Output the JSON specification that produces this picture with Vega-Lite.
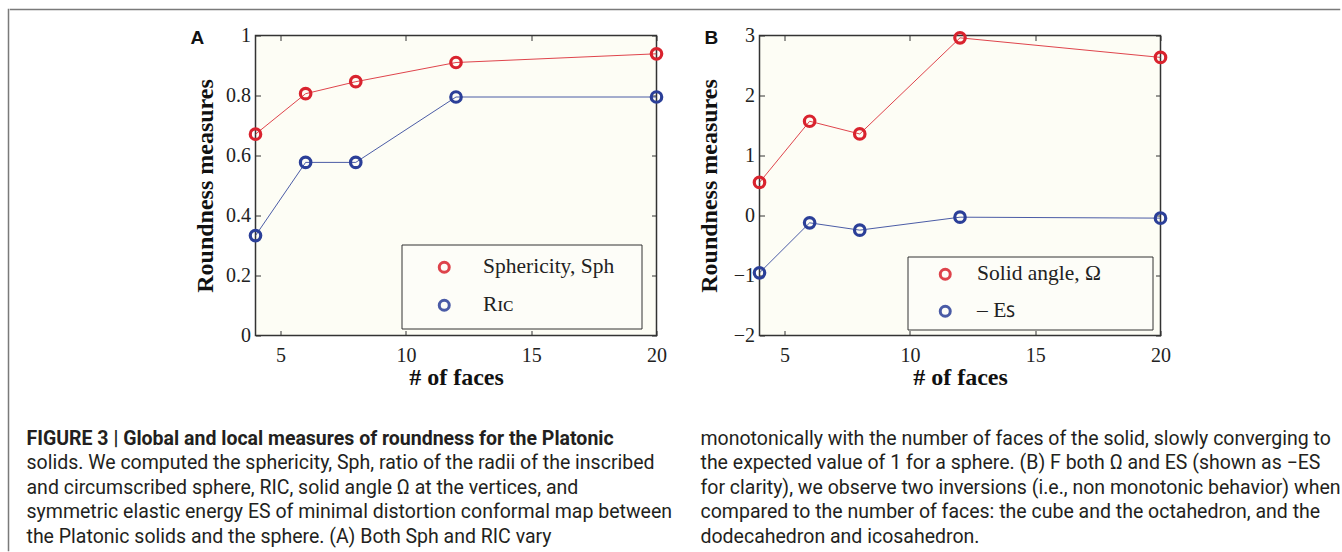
{
  "$schema": "https://vega.github.io/schema/vega-lite/v6.json",
  "background": "white",
  "padding": {"left": 7.5, "top": 8.5, "right": 0, "bottom": 0},
  "datasets": {
    "A": [
      {"series": "Sphericity, Sph", "faces": 4, "value": 0.671},
      {"series": "Sphericity, Sph", "faces": 6, "value": 0.806},
      {"series": "Sphericity, Sph", "faces": 8, "value": 0.846},
      {"series": "Sphericity, Sph", "faces": 12, "value": 0.910},
      {"series": "Sphericity, Sph", "faces": 20, "value": 0.939},
      {"series": "Rɪᴄ", "faces": 4, "value": 0.333},
      {"series": "Rɪᴄ", "faces": 6, "value": 0.577},
      {"series": "Rɪᴄ", "faces": 8, "value": 0.577},
      {"series": "Rɪᴄ", "faces": 12, "value": 0.795},
      {"series": "Rɪᴄ", "faces": 20, "value": 0.795}
    ],
    "B": [
      {"series": "Solid angle, Ω", "faces": 4, "value": 0.551},
      {"series": "Solid angle, Ω", "faces": 6, "value": 1.571},
      {"series": "Solid angle, Ω", "faces": 8, "value": 1.359},
      {"series": "Solid angle, Ω", "faces": 12, "value": 2.961},
      {"series": "Solid angle, Ω", "faces": 20, "value": 2.635},
      {"series": "–  Eꜱ", "faces": 4, "value": -0.955},
      {"series": "–  Eꜱ", "faces": 6, "value": -0.122},
      {"series": "–  Eꜱ", "faces": 8, "value": -0.244},
      {"series": "–  Eꜱ", "faces": 12, "value": -0.028},
      {"series": "–  Eꜱ", "faces": 20, "value": -0.044}
    ],
    "caption": [
      {"col": "L", "line": 1, "text": "FIGURE 3 | Global and local measures of roundness for the Platonic"},
      {"col": "L", "line": 2, "text": "solids. We computed the sphericity, Sph, ratio of the radii of the inscribed"},
      {"col": "L", "line": 3, "text": "and circumscribed sphere, RIC, solid angle Ω at the vertices, and"},
      {"col": "L", "line": 4, "text": "symmetric elastic energy ES of minimal distortion conformal map between"},
      {"col": "L", "line": 5, "text": "the Platonic solids and the sphere. (A) Both Sph and RIC vary"},
      {"col": "R", "line": 1, "text": "monotonically with the number of faces of the solid, slowly converging to"},
      {"col": "R", "line": 2, "text": "the expected value of 1 for a sphere. (B) F both Ω and ES (shown as −ES"},
      {"col": "R", "line": 3, "text": "for clarity), we observe two inversions (i.e., non monotonic behavior) when"},
      {"col": "R", "line": 4, "text": "compared to the number of faces: the cube and the octahedron, and the"},
      {"col": "R", "line": 5, "text": "dodecahedron and icosahedron."}
    ]
  },
  "config": {
    "view": {"stroke": null},
    "axis": {
      "grid": false,
      "domain": false,
      "tickColor": "#333333",
      "tickSize": -5,
      "tickWidth": 1,
      "labelFont": "Liberation Serif",
      "labelFontSize": 20,
      "labelColor": "#222222",
      "labelFlush": false,
      "labelOverlap": false,
      "titleFont": "Liberation Serif",
      "titleFontSize": 24,
      "titleFontWeight": "bold",
      "titleColor": "#111111"
    }
  },
  "hconcat": [
    {
      "width": 0.01,
      "height": 541,
      "view": {"stroke": "#7a7a7a", "strokeWidth": 1.5},
      "data": {"values": []},
      "mark": {"type": "point", "opacity": 0},
      "encoding": {}
    },
    {
      "vconcat": [
        {
          "width": 1329,
          "height": 0.01,
          "view": {"stroke": "#7a7a7a", "strokeWidth": 1.5},
          "data": {"values": []},
          "mark": {"type": "point", "opacity": 0},
          "encoding": {}
        },
        {
          "vconcat": [
            {
              "hconcat": [
                {
                  "width": 153,
                  "height": 300,
                  "data": {"values": []},
                  "mark": {"type": "point", "opacity": 0},
                  "encoding": {}
                },
                {
                  "width": 401,
                  "height": 300,
                  "view": {"stroke": "#333333", "strokeWidth": 1.5, "fill": "#fdfdf5"},
                  "data": {"name": "A"},
                  "layer": [
                    {
                      "mark": {"type": "line", "strokeWidth": 1, "opacity": 0.85},
                      "encoding": {
                        "x": {"field": "faces", "type": "quantitative", "scale": {"domain": [4, 20], "nice": false, "zero": false},
                              "axis": {"orient": "bottom", "values": [5, 10, 15, 20], "labelPadding": 15, "title": "# of faces", "titlePadding": 0}},
                        "y": {"field": "value", "type": "quantitative", "scale": {"domain": [0, 1], "nice": false},
                              "axis": {"orient": "left", "values": [0, 0.2, 0.4, 0.6, 0.8, 1], "format": "~g", "labelPadding": 10, "title": "Roundness measures", "titlePadding": 8}},
                        "color": {"field": "series", "type": "nominal", "scale": {"domain": ["Sphericity, Sph", "Rɪᴄ"], "range": ["#d9232e", "#2b3f98"]},
                          "legend": {"orient": "none", "legendX": 146, "legendY": 209, "direction": "vertical", "title": ".", "titleOrient": "right", "titleFontSize": 10, "titleOpacity": 0, "titlePadding": 12,
                            "strokeColor": "#333333", "fillColor": "#fdfdf8", "padding": 12, "rowPadding": 15,
                            "symbolType": "circle", "symbolSize": 100, "symbolStrokeWidth": 3, "symbolFillColor": "transparent", "symbolOffset": 20,
                            "labelOffset": 28, "labelFont": "Liberation Serif", "labelFontSize": 21.5, "labelColor": "#222222", "labelLimit": 400}}
                      }
                    },
                    {
                      "mark": {"type": "point", "shape": "circle", "filled": false, "size": 110, "strokeWidth": 3.2, "opacity": 1},
                      "encoding": {
                        "x": {"field": "faces", "type": "quantitative", "axis": {"orient": "top", "values": [5, 10, 15, 20], "labels": false, "title": null}},
                        "y": {"field": "value", "type": "quantitative", "axis": {"orient": "right", "values": [0, 0.2, 0.4, 0.6, 0.8, 1], "labels": false, "title": null}},
                        "color": {"field": "series", "type": "nominal", "scale": {"domain": ["Sphericity, Sph", "Rɪᴄ"], "range": ["#d9232e", "#2b3f98"]},
                          "legend": {"orient": "none", "legendX": 146, "legendY": 209, "direction": "vertical", "title": ".", "titleOrient": "right", "titleFontSize": 10, "titleOpacity": 0, "titlePadding": 12,
                            "strokeColor": "#333333", "fillColor": "#fdfdf8", "padding": 12, "rowPadding": 15,
                            "symbolType": "circle", "symbolSize": 100, "symbolStrokeWidth": 3, "symbolFillColor": "transparent", "symbolOffset": 20,
                            "labelOffset": 28, "labelFont": "Liberation Serif", "labelFontSize": 21.5, "labelColor": "#222222", "labelLimit": 400}}
                      }
                    },
                    {
                      "data": {"values": [{"panel": "A"}]},
                      "mark": {"type": "text", "font": "Liberation Sans", "fontSize": 19, "fontWeight": "bold", "color": "#111111", "align": "left", "baseline": "alphabetic", "dx": -65, "dy": 8},
                      "encoding": {
                        "text": {"field": "panel", "type": "nominal"},
                        "x": {"datum": 4, "type": "quantitative", "axis": null},
                        "y": {"datum": 1, "type": "quantitative", "axis": null}
                      }
                    }
                  ],
                  "resolve": {"axis": {"x": "independent", "y": "independent"}}
                },
                {
                  "width": 401,
                  "height": 300,
                  "view": {"stroke": "#333333", "strokeWidth": 1.5, "fill": "#fdfdf5"},
                  "data": {"name": "B"},
                  "layer": [
                    {
                      "mark": {"type": "line", "strokeWidth": 1, "opacity": 0.85},
                      "encoding": {
                        "x": {"field": "faces", "type": "quantitative", "scale": {"domain": [4, 20], "nice": false, "zero": false},
                              "axis": {"orient": "bottom", "values": [5, 10, 15, 20], "labelPadding": 15, "title": "# of faces", "titlePadding": 0}},
                        "y": {"field": "value", "type": "quantitative", "scale": {"domain": [-2, 3], "nice": false},
                              "axis": {"orient": "left", "values": [-2, -1, 0, 1, 2, 3], "format": "~g", "labelPadding": 10, "title": "Roundness measures", "titlePadding": 12}},
                        "color": {"field": "series", "type": "nominal", "scale": {"domain": ["Solid angle, Ω", "–  Eꜱ"], "range": ["#d9232e", "#2b3f98"]},
                          "legend": {"orient": "none", "legendX": 148, "legendY": 221, "direction": "vertical", "title": ".", "titleOrient": "right", "titleFontSize": 10, "titleOpacity": 0, "titlePadding": 41,
                            "strokeColor": "#333333", "fillColor": "#fdfdf8", "padding": 7, "rowPadding": 14,
                            "symbolType": "circle", "symbolSize": 100, "symbolStrokeWidth": 3, "symbolFillColor": "transparent", "symbolOffset": 20,
                            "labelOffset": 21, "labelFont": "Liberation Serif", "labelFontSize": 21.5, "labelColor": "#222222", "labelLimit": 400}}
                      }
                    },
                    {
                      "mark": {"type": "point", "shape": "circle", "filled": false, "size": 110, "strokeWidth": 3.2, "opacity": 1},
                      "encoding": {
                        "x": {"field": "faces", "type": "quantitative", "axis": {"orient": "top", "values": [5, 10, 15, 20], "labels": false, "title": null}},
                        "y": {"field": "value", "type": "quantitative", "axis": {"orient": "right", "values": [-2, -1, 0, 1, 2, 3], "labels": false, "title": null}},
                        "color": {"field": "series", "type": "nominal", "scale": {"domain": ["Solid angle, Ω", "–  Eꜱ"], "range": ["#d9232e", "#2b3f98"]},
                          "legend": {"orient": "none", "legendX": 148, "legendY": 221, "direction": "vertical", "title": ".", "titleOrient": "right", "titleFontSize": 10, "titleOpacity": 0, "titlePadding": 41,
                            "strokeColor": "#333333", "fillColor": "#fdfdf8", "padding": 7, "rowPadding": 14,
                            "symbolType": "circle", "symbolSize": 100, "symbolStrokeWidth": 3, "symbolFillColor": "transparent", "symbolOffset": 20,
                            "labelOffset": 21, "labelFont": "Liberation Serif", "labelFontSize": 21.5, "labelColor": "#222222", "labelLimit": 400}}
                      }
                    },
                    {
                      "data": {"values": [{"panel": "B"}]},
                      "mark": {"type": "text", "font": "Liberation Sans", "fontSize": 19, "fontWeight": "bold", "color": "#111111", "align": "left", "baseline": "alphabetic", "dx": -55, "dy": 8},
                      "encoding": {
                        "text": {"field": "panel", "type": "nominal"},
                        "x": {"datum": 4, "type": "quantitative", "axis": null},
                        "y": {"datum": 3, "type": "quantitative", "axis": null}
                      }
                    }
                  ],
                  "resolve": {"axis": {"x": "independent", "y": "independent"}}
                }
              ],
              "spacing": 26,
              "resolve": {"scale": {"color": "independent"}, "legend": {"color": "independent"}}
            },
            {
              "width": 706,
              "height": 98,
              "data": {"name": "caption"},
              "encoding": {
                "x": {"field": "col", "type": "nominal", "scale": {"type": "point", "domain": ["L", "R"], "padding": 0.02374}, "axis": null},
                "y": {"field": "line", "type": "ordinal", "scale": {"type": "point", "domain": [1, 2, 3, 4, 5], "padding": 0}, "axis": null},
                "text": {"field": "text", "type": "nominal"}
              },
              "layer": [
                {
                  "transform": [{"filter": "datum.col === 'L' && datum.line === 1"}],
                  "mark": {"type": "text", "align": "left", "baseline": "alphabetic", "font": "Roboto", "fontSize": 19.5, "fontWeight": "bold", "color": "#231f20"}
                },
                {
                  "transform": [{"filter": "!(datum.col === 'L' && datum.line === 1)"}],
                  "mark": {"type": "text", "align": "left", "baseline": "alphabetic", "font": "Roboto", "fontSize": 19.5, "color": "#231f20"}
                }
              ]
            }
          ],
          "spacing": 38,
          "resolve": {"scale": {"color": "independent"}, "legend": {"color": "independent"}}
        }
      ],
      "spacing": 14,
      "resolve": {"scale": {"color": "independent"}, "legend": {"color": "independent"}}
    }
  ],
  "spacing": 0,
  "resolve": {"scale": {"color": "independent"}, "legend": {"color": "independent"}}
}
